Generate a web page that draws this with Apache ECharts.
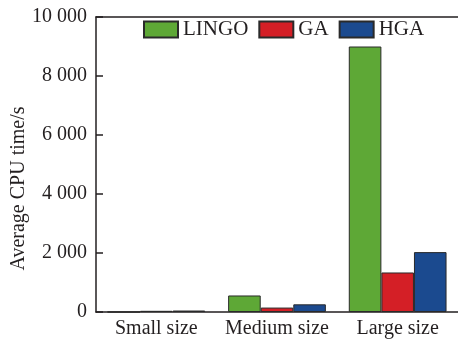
<!DOCTYPE html>
<html>
<head>
<meta charset="utf-8">
<script src="https://cdn.jsdelivr.net/npm/echarts@6/dist/echarts.min.js"></script>
<style>
  html, body { margin: 0; padding: 0; background: #fff; }
  #chart { width: 458px; height: 343px; }
</style>
</head>
<body>
<div id="chart"></div>
<script>
// Problem size groups
const categories = ['Small size', 'Medium size', 'Large size'];
// Average CPU time in seconds per method
const lingoTimes = [2, 560, 9000];
const gaTimes = [40, 150, 1340];
const hgaTimes = [50, 260, 2030];
// Value axis ticks
const yTicks = [0, 2000, 4000, 6000, 8000, 10000];

const serif = '"Liberation Serif", "DejaVu Serif", serif';
const ink = '#231f20';

function fmt(v) {
  return String(v).replace(/\B(?=(\d{3})+(?!\d))/g, ' ');
}

const chart = echarts.init(document.getElementById('chart'));
chart.setOption({
  animation: false,
  textStyle: { fontFamily: serif },
  grid: { left: 96, right: 0, top: 17, bottom: 31, containLabel: false, outerBoundsMode: 'none' },
  legend: {
    top: 19,
    left: 143,
    padding: 0,
    icon: 'rect',
    itemWidth: 34,
    itemHeight: 16,
    itemGap: 10,
    textStyle: { fontFamily: serif, fontSize: 21, color: ink, padding: [2, 0, 0, 0] },
    data: ['LINGO', 'GA', 'HGA']
  },
  xAxis: [{
    type: 'category',
    data: categories,
    axisLine: { lineStyle: { color: ink, width: 1.5 } },
    axisTick: { show: false },
    axisLabel: { fontFamily: serif, fontSize: 20, color: ink, margin: 7, interval: 0, hideOverlap: false }
  }, {
    type: 'category',
    position: 'top',
    data: categories,
    axisLine: { show: true, lineStyle: { color: ink, width: 1.5 } },
    axisTick: { show: false },
    axisLabel: { show: false }
  }],
  yAxis: {
    type: 'value',
    min: yTicks[0],
    max: yTicks[yTicks.length - 1],
    interval: 2000,
    name: 'Average CPU time/s',
    nameLocation: 'middle',
    nameGap: 67,
    nameMoveOverlap: false,
    nameTextStyle: { fontFamily: serif, fontSize: 20, color: ink, padding: [0, 48, 0, 0] },
    axisLine: { show: true, lineStyle: { color: ink, width: 1.5 } },
    axisTick: { show: true, inside: true, length: 7, lineStyle: { color: ink, width: 1.5 } },
    axisLabel: { fontFamily: serif, fontSize: 20, color: ink, margin: 9, formatter: fmt },
    splitLine: { show: false }
  },
  series: [
    { name: 'LINGO', type: 'bar', data: lingoTimes, barGap: '0%', barCategoryGap: '19%',
      itemStyle: { color: '#5ea836', borderColor: '#2a2a2a', borderWidth: 1 } },
    { name: 'GA', type: 'bar', data: gaTimes, barGap: '0%', barCategoryGap: '19%',
      itemStyle: { color: '#d41f26', borderColor: '#2a2a2a', borderWidth: 1 } },
    { name: 'HGA', type: 'bar', data: hgaTimes, barGap: '0%', barCategoryGap: '19%',
      itemStyle: { color: '#1b4a8f', borderColor: '#2a2a2a', borderWidth: 1 } }
  ]
});
</script>
</body>
</html>
